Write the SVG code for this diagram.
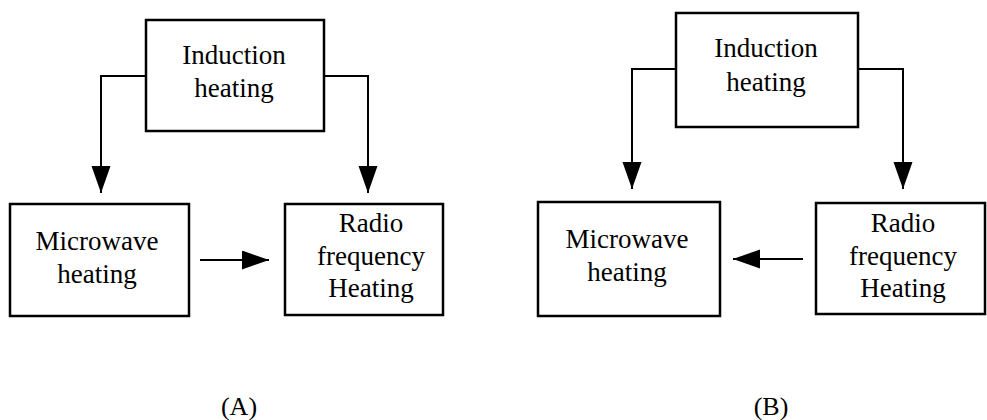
<svg xmlns="http://www.w3.org/2000/svg" width="987" height="420" viewBox="0 0 987 420">
<style>
.nodebox{fill:#fff;stroke:#000;stroke-width:2.5}
.nodetext{font-family:'Liberation Serif',serif;font-size:27px;fill:#000;text-anchor:middle}
.caption{font-family:'Liberation Serif',serif;font-size:26px;fill:#000;text-anchor:middle}
.conn{fill:none;stroke:#000;stroke-width:2}
</style>
<defs>
<marker id="ah" markerUnits="userSpaceOnUse" markerWidth="28" markerHeight="20" refX="27" refY="9.5" orient="auto" viewBox="0 0 28 20">
<path d="M0,0 L27,9.5 L0,19 z" fill="#000"/>
</marker>
</defs>
<rect width="987" height="420" fill="#fff"/>
<g id="connectors">
<polyline class="conn" points="146,76 101,76 101,193" marker-end="url(#ah)"/>
<polyline class="conn" points="324,76 368,76 368,193" marker-end="url(#ah)"/>
<line class="conn" x1="200" y1="260" x2="269" y2="260" marker-end="url(#ah)"/>
<polyline class="conn" points="676,69 632,69 632,189" marker-end="url(#ah)"/>
<polyline class="conn" points="858,69 903,69 903,189" marker-end="url(#ah)"/>
<line class="conn" x1="803" y1="259" x2="733" y2="259" marker-end="url(#ah)"/>
</g>
<g id="a-induction">
<rect class="nodebox" x="146" y="20" width="178" height="111"/>
<text class="nodetext" font-family="Liberation Serif" x="234" y="64">Induction</text>
<text class="nodetext" font-family="Liberation Serif" x="234" y="97">heating</text>
</g>
<g id="a-microwave">
<rect class="nodebox" x="10" y="204" width="179" height="112"/>
<text class="nodetext" font-family="Liberation Serif" x="97" y="250">Microwave</text>
<text class="nodetext" font-family="Liberation Serif" x="97" y="283">heating</text>
</g>
<g id="a-radio">
<rect class="nodebox" x="285" y="204" width="158" height="111"/>
<text class="nodetext" font-family="Liberation Serif" x="371" y="232">Radio</text>
<text class="nodetext" font-family="Liberation Serif" x="371" y="265">frequency</text>
<text class="nodetext" font-family="Liberation Serif" x="371" y="297">Heating</text>
</g>
<g id="b-induction">
<rect class="nodebox" x="676" y="13" width="182" height="114"/>
<text class="nodetext" font-family="Liberation Serif" x="766" y="57">Induction</text>
<text class="nodetext" font-family="Liberation Serif" x="766" y="91">heating</text>
</g>
<g id="b-microwave">
<rect class="nodebox" x="538" y="202" width="182" height="114"/>
<text class="nodetext" font-family="Liberation Serif" x="627" y="248">Microwave</text>
<text class="nodetext" font-family="Liberation Serif" x="627" y="281">heating</text>
</g>
<g id="b-radio">
<rect class="nodebox" x="816" y="203" width="169" height="111"/>
<text class="nodetext" font-family="Liberation Serif" x="903" y="232">Radio</text>
<text class="nodetext" font-family="Liberation Serif" x="903" y="265">frequency</text>
<text class="nodetext" font-family="Liberation Serif" x="903" y="297">Heating</text>
</g>
<g id="captions">
<text class="caption" x="239" y="415">(A)</text>
<text class="caption" x="771" y="415">(B)</text>
</g>
</svg>
